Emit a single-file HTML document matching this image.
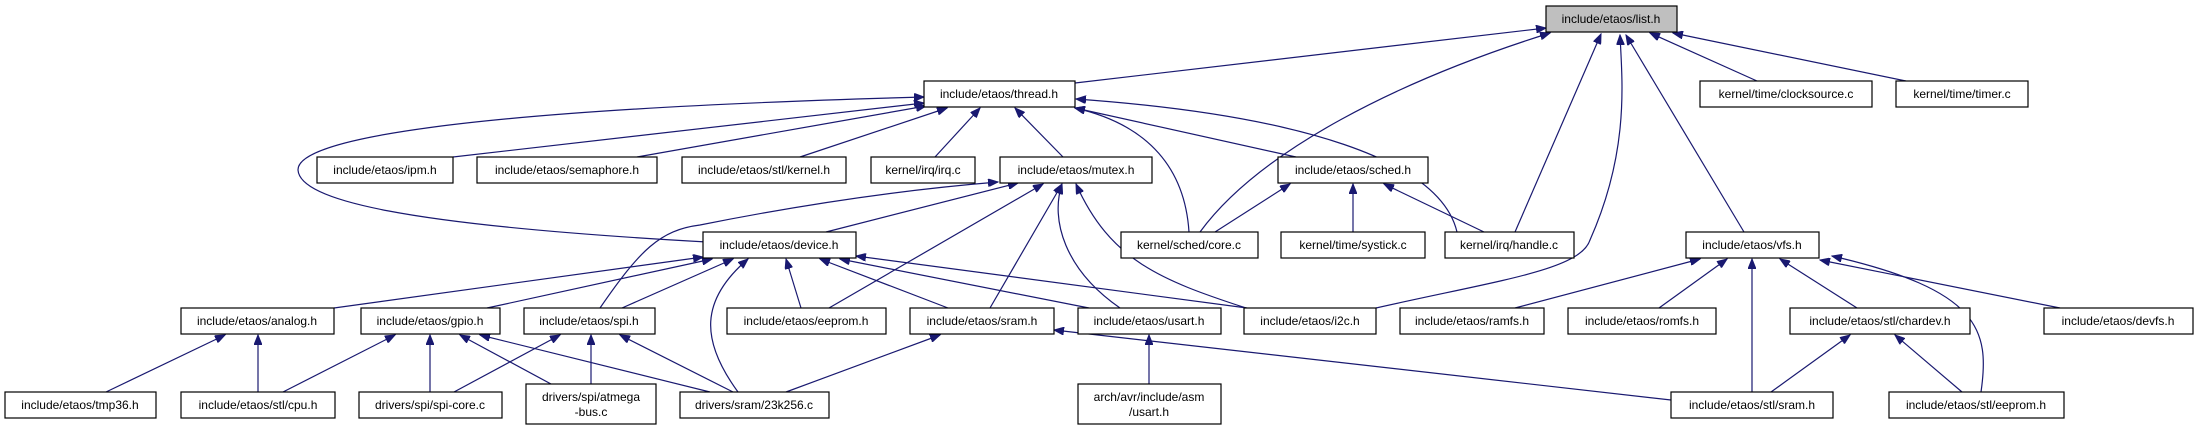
<!DOCTYPE html>
<html><head><meta charset="utf-8"><style>
html,body{margin:0;padding:0;background:#fff;}
svg{display:block;}
text{font-family:"Liberation Sans",sans-serif;font-size:12px;text-anchor:middle;dominant-baseline:central;fill:#000;}
rect{fill:#fff;stroke:#000;stroke-width:1.2;}
path{fill:none;stroke:#191970;stroke-width:1.2;}
</style></head><body>
<svg width="2194" height="425" viewBox="0 0 2194 425" xmlns="http://www.w3.org/2000/svg">
<defs><marker id="a" markerWidth="11" markerHeight="8" refX="10" refY="4" orient="auto" markerUnits="userSpaceOnUse"><path d="M0,0 L10,4 L0,8 Z" style="fill:#191970;stroke:#191970;stroke-width:1"/></marker></defs>
<g marker-end="url(#a)">
<!-- list.h -->
<path d="M1075,83 L1546,28"/>
<path d="M1200,232 C1260,150 1400,80 1550,33"/>
<path d="M1515,232 L1601,34"/>
<path d="M1376,308 C1500,280 1580,270 1590,240 C1630,150 1622,80 1620,35"/>
<path d="M1744,232 L1626,35"/>
<path d="M1757,81 L1650,33"/>
<path d="M1906,81 L1673,33"/>
<!-- thread.h -->
<path d="M707,242 C400,225 300,200 298,170 C297,140 450,110 924,97"/>
<path d="M453,157 L924,103"/>
<path d="M637,157 L926,106"/>
<path d="M800,157 L947,108"/>
<path d="M935,157 L980,108"/>
<path d="M1063,157 L1015,108"/>
<path d="M1296,157 L1075,108"/>
<path d="M1189,232 C1185,170 1150,125 1075,108"/>
<path d="M1457,232 C1440,160 1300,115 1076,99"/>
<!-- mutex.h -->
<path d="M826,232 L1018,183"/>
<path d="M829,308 L1043,184"/>
<path d="M990,308 L1062,184"/>
<path d="M1120,308 C1065,270 1050,220 1062,184"/>
<path d="M1246,308 C1160,280 1110,260 1076,184"/>
<path d="M600,308 C640,250 660,230 700,225 C800,205 900,190 998,182"/>
<!-- sched.h -->
<path d="M1215,232 L1290,184"/>
<path d="M1353,232 L1353,184"/>
<path d="M1484,232 L1384,184"/>
<!-- device.h -->
<path d="M334,308 L703,257"/>
<path d="M487,308 L712,259"/>
<path d="M622,308 L733,259"/>
<path d="M738,392 C700,340 700,300 748,259"/>
<path d="M801,308 L786,259"/>
<path d="M948,308 L820,259"/>
<path d="M1089,308 L840,259"/>
<path d="M1247,308 L856,256"/>
<!-- analog -->
<path d="M106,392 L225,335"/>
<path d="M258,392 L258,335"/>
<!-- gpio -->
<path d="M283,392 L395,335"/>
<path d="M430,392 L430,335"/>
<path d="M551,384 L460,335"/>
<path d="M710,392 L480,335"/>
<!-- spi -->
<path d="M454,392 L560,335"/>
<path d="M591,384 L591,335"/>
<path d="M733,392 L620,335"/>
<!-- sram.h -->
<path d="M786,392 L940,335"/>
<path d="M1671,400 L1054,330"/>
<!-- usart -->
<path d="M1149,384 L1149,335"/>
<!-- vfs -->
<path d="M1515,308 L1700,259"/>
<path d="M1659,308 L1727,259"/>
<path d="M1752,392 L1752,259"/>
<path d="M1857,308 L1780,259"/>
<path d="M2060,308 L1820,260"/>
<path d="M1981,392 C1990,330 1980,290 1832,256"/>
<!-- chardev -->
<path d="M1771,392 L1850,335"/>
<path d="M1962,392 L1895,335"/>
</g>
<g>
<rect x="1546" y="6" width="131" height="26" style="fill:#bfbfbf"/><text x="1611" y="19">include/etaos/list.h</text>
<rect x="924" y="81" width="151" height="26"/><text x="999" y="94">include/etaos/thread.h</text>
<rect x="1700" y="81" width="172" height="26"/><text x="1786" y="94">kernel/time/clocksource.c</text>
<rect x="1896" y="81" width="132" height="26"/><text x="1962" y="94">kernel/time/timer.c</text>

<rect x="317" y="157" width="136" height="26"/><text x="385" y="170">include/etaos/ipm.h</text>
<rect x="477" y="157" width="180" height="26"/><text x="567" y="170">include/etaos/semaphore.h</text>
<rect x="682" y="157" width="164" height="26"/><text x="764" y="170">include/etaos/stl/kernel.h</text>
<rect x="871" y="157" width="104" height="26"/><text x="923" y="170">kernel/irq/irq.c</text>
<rect x="1000" y="157" width="152" height="26"/><text x="1076" y="170">include/etaos/mutex.h</text>
<rect x="1278" y="157" width="150" height="26"/><text x="1353" y="170">include/etaos/sched.h</text>

<rect x="703" y="232" width="153" height="26"/><text x="779" y="245">include/etaos/device.h</text>
<rect x="1121" y="232" width="137" height="26"/><text x="1189" y="245">kernel/sched/core.c</text>
<rect x="1281" y="232" width="144" height="26"/><text x="1353" y="245">kernel/time/systick.c</text>
<rect x="1445" y="232" width="129" height="26"/><text x="1509" y="245">kernel/irq/handle.c</text>
<rect x="1686" y="232" width="133" height="26"/><text x="1752" y="245">include/etaos/vfs.h</text>

<rect x="181" y="308" width="153" height="26"/><text x="257" y="321">include/etaos/analog.h</text>
<rect x="361" y="308" width="139" height="26"/><text x="430" y="321">include/etaos/gpio.h</text>
<rect x="524" y="308" width="131" height="26"/><text x="589" y="321">include/etaos/spi.h</text>
<rect x="727" y="308" width="159" height="26"/><text x="806" y="321">include/etaos/eeprom.h</text>
<rect x="910" y="308" width="144" height="26"/><text x="982" y="321">include/etaos/sram.h</text>
<rect x="1078" y="308" width="143" height="26"/><text x="1149" y="321">include/etaos/usart.h</text>
<rect x="1244" y="308" width="132" height="26"/><text x="1310" y="321">include/etaos/i2c.h</text>
<rect x="1400" y="308" width="144" height="26"/><text x="1472" y="321">include/etaos/ramfs.h</text>
<rect x="1568" y="308" width="148" height="26"/><text x="1642" y="321">include/etaos/romfs.h</text>
<rect x="1790" y="308" width="180" height="26"/><text x="1880" y="321">include/etaos/stl/chardev.h</text>
<rect x="2044" y="308" width="149" height="26"/><text x="2118" y="321">include/etaos/devfs.h</text>

<rect x="5" y="392" width="151" height="26"/><text x="80" y="405">include/etaos/tmp36.h</text>
<rect x="181" y="392" width="154" height="26"/><text x="258" y="405">include/etaos/stl/cpu.h</text>
<rect x="359" y="392" width="143" height="26"/><text x="430" y="405">drivers/spi/spi-core.c</text>
<rect x="526" y="384" width="130" height="40"/><text x="591" y="397">drivers/spi/atmega</text><text x="591" y="412">-bus.c</text>
<rect x="680" y="392" width="149" height="26"/><text x="754" y="405">drivers/sram/23k256.c</text>
<rect x="1078" y="384" width="143" height="40"/><text x="1149" y="397">arch/avr/include/asm</text><text x="1149" y="412">/usart.h</text>
<rect x="1671" y="392" width="162" height="26"/><text x="1752" y="405">include/etaos/stl/sram.h</text>
<rect x="1889" y="392" width="175" height="26"/><text x="1976" y="405">include/etaos/stl/eeprom.h</text>
</g>
</svg>
</body></html>
